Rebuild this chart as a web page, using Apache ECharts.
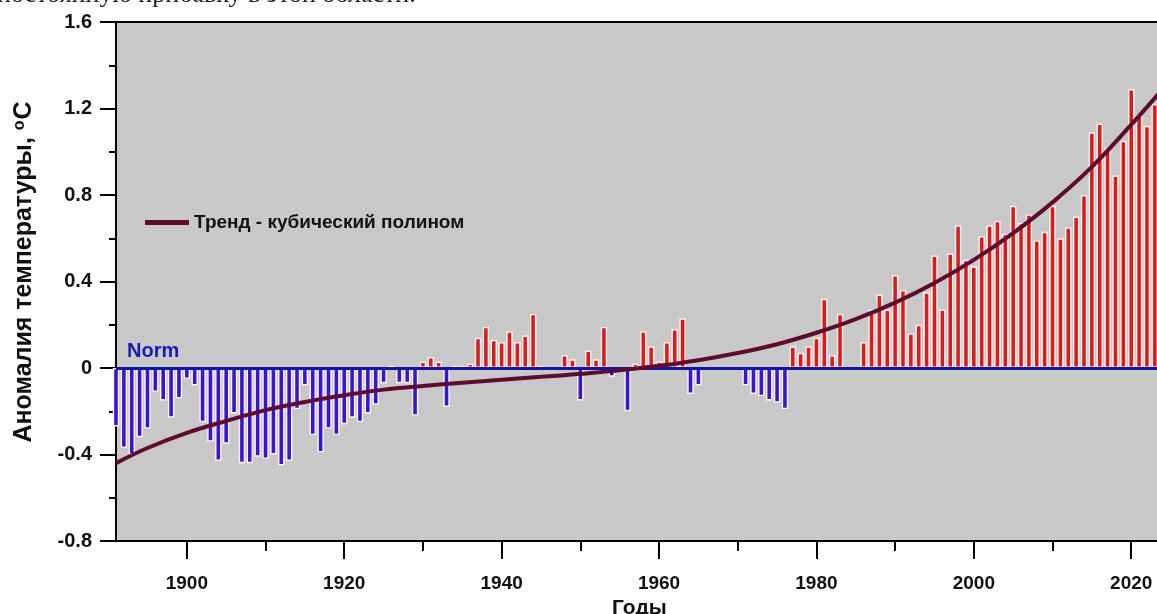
<!DOCTYPE html>
<html><head><meta charset="utf-8">
<script src="https://cdn.jsdelivr.net/npm/echarts@6.0.0/dist/echarts.min.js"></script>
<style>html,body{margin:0;padding:0;background:#fff;}#c{width:1157px;height:614px;}</style>
</head><body><div id="c"></div>
<script>
// ---- data ----
const firstYear = 1891, lastYear = 2024;
const years = [];
for (let y = firstYear; y <= lastYear; y++) years.push(String(y));

// annual anomaly, 1891..2023 (°C)
const anomalies = [
  -0.27,-0.37,-0.40,-0.32,-0.28,-0.11,-0.15,-0.23,-0.14,            // 1891-1899
  -0.05,-0.08,-0.25,-0.34,-0.43,-0.35,-0.21,-0.44,-0.44,-0.41,      // 1900-1909
  -0.42,-0.40,-0.45,-0.43,-0.19,-0.08,-0.31,-0.39,-0.28,-0.31,      // 1910-1919
  -0.26,-0.23,-0.25,-0.21,-0.17,-0.07, 0.01,-0.07,-0.07,-0.22,      // 1920-1929
   0.03, 0.05, 0.03,-0.18, 0.01, 0.01, 0.02, 0.14, 0.19, 0.13,      // 1930-1939
   0.12, 0.17, 0.12, 0.15, 0.25, 0.01, 0.00, 0.00, 0.06, 0.04,      // 1940-1949
  -0.15, 0.08, 0.04, 0.19,-0.04,-0.02,-0.20, 0.02, 0.17, 0.10,      // 1950-1959
   0.03, 0.12, 0.18, 0.23,-0.12,-0.08, 0.00, 0.00, 0.00, 0.00,      // 1960-1969
   0.00,-0.08,-0.12,-0.13,-0.15,-0.16,-0.19, 0.10, 0.07, 0.10,      // 1970-1979
   0.14, 0.32, 0.06, 0.25, 0.00,-0.01, 0.12, 0.27, 0.34, 0.27,      // 1980-1989
   0.43, 0.36, 0.16, 0.20, 0.35, 0.52, 0.27, 0.53, 0.66, 0.50,      // 1990-1999
   0.47, 0.61, 0.66, 0.68, 0.62, 0.75, 0.67, 0.71, 0.59, 0.63,      // 2000-2009
   0.75, 0.60, 0.65, 0.70, 0.80, 1.09, 1.13, 1.02, 0.89, 1.05,      // 2010-2019
   1.29, 1.17, 1.12, 1.22                                           // 2020-2023
];

// cubic trend at these years
const trendYears  = [1891, 1895, 1900, 1905, 1910, 1915, 1920, 1925, 1930, 1935, 1940, 1945, 1950, 1955, 1960, 1965, 1970, 1975, 1980, 1985, 1990, 1995, 2000, 2005, 2010, 2015, 2020, 2024];
const trendValues = [-0.44,-0.37,-0.30,-0.245,-0.195,-0.157,-0.126,-0.10,-0.083,-0.068,-0.054,-0.041,-0.027,-0.011,0.01,0.036,0.069,0.11,0.163,0.226,0.302,0.393,0.50,0.624,0.766,0.93,1.125,1.29];

const yTicks = [-0.8, -0.4, 0, 0.4, 0.8, 1.2, 1.6];
const legendName = 'Тренд - кубический полином';

// ---- chart ----
const chart = echarts.init(document.getElementById('c'), null, {renderer: 'canvas'});
const FONT = 'Liberation Sans, Arial, sans-serif';
const barData = anomalies.map(v => ({
  value: v,
  itemStyle: {color: v >= 0 ? '#dc1c1c' : '#3616d0'}
}));
const trendData = trendYears.map((y, i) => [String(y), trendValues[i]]);

chart.setOption({
  animation: false,
  backgroundColor: '#ffffff',
  grid: {
    left: 116, top: 22, width: 1046.7, height: 519,
    show: true, backgroundColor: '#c8c8c8', borderColor: '#000', borderWidth: 2,
    outerBoundsMode: 'none', containLabel: false
  },
  legend: {
    data: [legendName], left: 140, top: 208,
    icon: 'rect', itemWidth: 44, itemHeight: 5, itemGap: 8,
    textStyle: {fontFamily: FONT, fontWeight: 'bold', fontSize: 19, color: '#111'}
  },
  xAxis: [{
    type: 'category', data: years, boundaryGap: false, position: 'bottom',
    axisLine: {show: true, onZero: false, lineStyle: {color: '#000', width: 2}},
    axisTick: {show: true, length: 18, lineStyle: {color: '#000', width: 2},
      interval: (i, v) => Number(v) % 20 === 0},
    axisLabel: {show: true, interval: (i, v) => Number(v) % 20 === 0, margin: 33,
      fontFamily: FONT, fontWeight: 'bold', fontSize: 19, color: '#111'},
    splitLine: {show: false},
    name: 'Годы', nameLocation: 'middle', nameGap: 50,
    nameTextStyle: {fontFamily: FONT, fontWeight: 'bold', fontSize: 21, color: '#111'}
  }, {
    type: 'category', data: years, boundaryGap: false, position: 'bottom',
    axisLine: {show: false, onZero: false},
    axisTick: {show: true, length: 10, lineStyle: {color: '#000', width: 2},
      interval: (i, v) => Number(v) % 20 === 10},
    axisLabel: {show: false}, splitLine: {show: false}
  }],
  yAxis: {
    type: 'value', min: yTicks[0], max: yTicks[yTicks.length - 1], interval: 0.4,
    axisLine: {show: true, onZero: false, lineStyle: {color: '#000', width: 2}},
    axisTick: {show: true, length: 16, lineStyle: {color: '#000', width: 2}},
    minorTick: {show: true, splitNumber: 2, length: 7, lineStyle: {color: '#000', width: 2}},
    splitLine: {show: false}, minorSplitLine: {show: false},
    axisLabel: {margin: 24, fontFamily: FONT, fontWeight: 'bold', fontSize: 20, color: '#111',
      formatter: v => Math.abs(v) < 1e-9 ? '0' : v.toFixed(1)},
    name: '{a|Аномалия температуры, }{s|o}{a|C}', nameLocation: 'middle', nameGap: 79, nameRotate: 90,
    nameTextStyle: {
      padding: [0, 0, 0, 19],
      rich: {
        a: {fontFamily: FONT, fontWeight: 'bold', fontSize: 25, color: '#111'},
        s: {fontFamily: FONT, fontWeight: 'bold', fontSize: 16, color: '#111', verticalAlign: 'top', lineHeight: 16, padding: [0, 1, 12, 0]}
      }
    }
  },
  series: [{
    type: 'bar', name: 'anomaly', xAxisIndex: 0, data: barData,
    barWidth: 6.4,
    itemStyle: {borderColor: '#fff4f2', borderWidth: 1.4},
    markLine: {
      silent: true, symbol: 'none', animation: false,
      lineStyle: {color: '#14149e', width: 3, type: 'solid'},
      label: {show: false},
      data: [{yAxis: 0}]
    },
    z: 2
  }, {
    type: 'line', name: legendName, xAxisIndex: 0, data: trendData,
    smooth: 0.4, showSymbol: false, symbol: 'none',
    lineStyle: {color: '#5e0b30', width: 4},
    itemStyle: {color: '#5e0b30'},
    z: 5
  }],
  graphic: [{
    type: 'text', left: 127, top: 341, z: 10,
    style: {text: 'Norm', fontFamily: FONT, fontWeight: 'bold', fontSize: 20, fill: '#1a1ab4'}
  }, {
    type: 'text', x: -3, y: 8, z: 10,
    style: {text: 'постоянную прибавку в этой области.', fontFamily: 'Liberation Serif, Times New Roman, serif',
      fontSize: 26, fill: '#222', verticalAlign: 'bottom'}
  }]
});
</script>
</body></html>
